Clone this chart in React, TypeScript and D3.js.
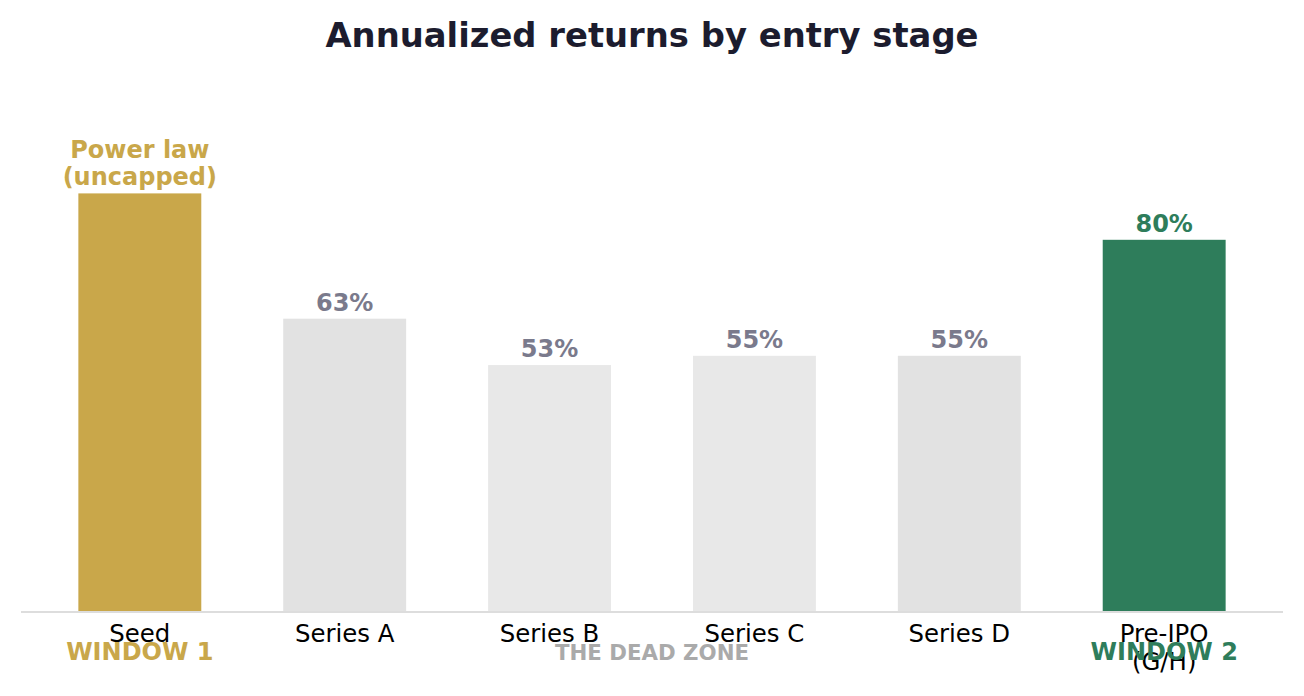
import React from 'react';
import * as d3 from 'd3';

const WIDTH = 1304;
const HEIGHT = 696;

const stages = ['Seed', 'Series A', 'Series B', 'Series C', 'Series D', 'Pre-IPO\n(G/H)'];
const returns = [90, 63, 53, 55, 55, 80];
const valueLabels = ['Power law\n(uncapped)', '63%', '53%', '55%', '55%', '80%'];
const barColors = ['#C9A74A', '#E2E2E2', '#E8E8E8', '#E8E8E8', '#E2E2E2', '#2E7D5B'];
const labelColors = ['#C9A74A', '#7A7A8C', '#7A7A8C', '#7A7A8C', '#7A7A8C', '#2E7D5B'];

const zones = [
  { text: 'WINDOW 1', at: 0, color: '#C9A74A', size: 24 },
  { text: 'THE DEAD ZONE', at: 2.5, color: '#AAAAAA', size: 21.3 },
  { text: 'WINDOW 2', at: 5, color: '#2E7D5B', size: 24 },
];

const FONT = 'DejaVu Sans, sans-serif';

const App: React.FC = () => {
  const ref = React.useRef<SVGSVGElement>(null);

  React.useEffect(() => {
    const svg = d3.select(ref.current);
    svg.selectAll('*').remove();

    const x = d3.scaleLinear().domain([-0.58, stages.length - 0.42]).range([21, 1283]);
    const y = d3.scaleLinear().domain([0, 100]).range([611, 147]);
    const barW = x(0.6) - x(0);

    svg
      .append('text')
      .attr('x', WIDTH / 2)
      .attr('y', 47)
      .attr('text-anchor', 'middle')
      .attr('font-family', FONT)
      .attr('font-weight', 'bold')
      .attr('font-size', 33.8)
      .attr('fill', '#1C1C2E')
      .text('Annualized returns by entry stage');

    svg
      .selectAll('rect.bar')
      .data(returns)
      .enter()
      .append('rect')
      .attr('class', 'bar')
      .attr('x', (_, i) => x(i) - barW / 2)
      .attr('y', (d) => y(d))
      .attr('width', barW)
      .attr('height', (d) => y(0) - y(d))
      .attr('fill', (_, i) => barColors[i]);

    // baseline
    svg
      .append('line')
      .attr('x1', x.range()[0])
      .attr('x2', x.range()[1])
      .attr('y1', y(0) + 1)
      .attr('y2', y(0) + 1)
      .attr('stroke', '#DDDDDD')
      .attr('stroke-width', 2);

    // value labels, bottom line sits just above the bar
    returns.forEach((v, i) => {
      const lines = valueLabels[i].split('\n');
      const t = svg
        .append('text')
        .attr('text-anchor', 'middle')
        .attr('font-family', FONT)
        .attr('font-weight', 'bold')
        .attr('font-size', 24)
        .attr('fill', labelColors[i]);
      lines.forEach((line, k) => {
        t.append('tspan')
          .attr('x', x(i))
          .attr('y', y(v) - 8 - (lines.length - 1 - k) * 27.3)
          .text(line);
      });
    });

    // tick labels
    stages.forEach((s, i) => {
      const t = svg
        .append('text')
        .attr('text-anchor', 'middle')
        .attr('font-family', FONT)
        .attr('font-size', 24.4)
        .attr('fill', '#000000');
      s.split('\n').forEach((line, k) => {
        t.append('tspan')
          .attr('x', x(i))
          .attr('y', 642 + k * 28)
          .text(line);
      });
    });

    svg
      .selectAll('text.zone')
      .data(zones)
      .enter()
      .append('text')
      .attr('class', 'zone')
      .attr('x', (d) => x(d.at))
      .attr('y', 660)
      .attr('text-anchor', 'middle')
      .attr('font-family', FONT)
      .attr('font-weight', 'bold')
      .attr('font-size', (d) => d.size)
      .attr('fill', (d) => d.color)
      .text((d) => d.text);
  }, []);

  return (
    <svg
      ref={ref}
      width={WIDTH}
      height={HEIGHT}
      style={{ position: 'absolute', left: 0, top: 0, background: '#FFFFFF', display: 'block' }}
    />
  );
};

export default App;
